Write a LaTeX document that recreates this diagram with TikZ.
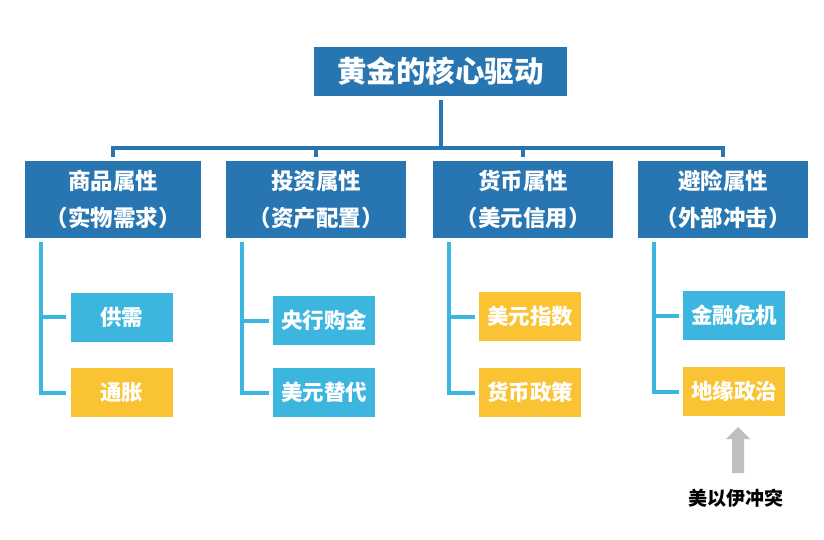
\documentclass[tikz,border=0pt]{standalone}
\usepackage{fontspec}
\newfontfamily\cjk{Noto Sans CJK SC}
\usetikzlibrary{calc}
\definecolor{dblue}{HTML}{2776B2}
\definecolor{lblue}{HTML}{3CB6DF}
\definecolor{gyel}{HTML}{FAC334}
\definecolor{agray}{HTML}{BFBFBF}
\begin{document}
\begin{tikzpicture}[x=1pt,y=-1pt,
  every node/.style={inner sep=0pt,font=\cjk\bfseries},
  rootbox/.style={fill=dblue,text=white,minimum width=253pt,minimum height=49pt,font=\cjk\bfseries\fontsize{29.5}{32}\selectfont},
  catbox/.style={fill=dblue,text=white,minimum height=77pt,align=center,font=\cjk\bfseries\fontsize{22.5}{37}\selectfont},
  leafblue/.style={fill=lblue,text=white,minimum width=102pt,minimum height=49pt,font=\cjk\bfseries\fontsize{21.5}{24}\selectfont},
  leafyel/.style={fill=gyel,text=white,minimum width=102pt,minimum height=49pt,font=\cjk\bfseries\fontsize{21.5}{24}\selectfont},
  topline/.style={draw=dblue,line width=4pt},
  kidline/.style={draw=lblue,line width=4pt},
]
\useasboundingbox (0,0) rectangle (824,540);
\fill[white] (0,0) rectangle (824,540);

\node[rootbox] (root) at (440.5,71.5) {黄金的核心驱动};

\node[catbox,minimum width=176pt] (b1) at (113,199.5) {商品属性\\（实物需求）};
\node[catbox,minimum width=180pt] (b2) at (316,199.5) {投资属性\\（资产配置）};
\node[catbox,minimum width=180pt] (b3) at (523,199.5) {货币属性\\（美元信用）};
\node[catbox,minimum width=170pt] (b4) at (723,199.5) {避险属性\\（外部冲击）};

\coordinate (bar) at (441,148);
\draw[topline] ($(root.south)+(0.5,4)$) -- (bar);
\draw[topline] ($(b1.north)+(0,-4)$) -- (b1.north |- bar) -- (b4.north |- bar) -- ($(b4.north)+(0,-4)$);
\draw[topline] (b2.north |- bar) -- ($(b2.north)+(0,-4)$);
\draw[topline] (b3.north |- bar) -- ($(b3.north)+(0,-4)$);

\node[leafblue] (c11) at (121.5,317) {供需};
\node[leafyel]  (c12) at (121.5,392.5) {通胀};
\node[leafblue] (c21) at (324,320.5) {央行购金};
\node[leafblue] (c22) at (324,392.5) {美元替代};
\node[leafyel]  (c31) at (530,316.5) {美元指数};
\node[leafyel]  (c32) at (530,392.5) {货币政策};
\node[leafblue] (c41) at (734,315.5) {金融危机};
\node[leafyel]  (c42) at (734,391.5) {地缘政治};

\foreach \b/\u/\l in {b1/c11/c12,b2/c21/c22,b3/c31/c32,b4/c41/c42}{
  \coordinate (top\b) at ($(\b.south west)+(16,4)$);
  \draw[kidline] (top\b) |- ($(\l.west)+(-4,0)$);
  \draw[kidline] (top\b |- \u.west) -- ($(\u.west)+(-4,0)$);
}

\node[font=\cjk\bfseries\fontsize{19}{21}\selectfont,text=black] (ev) at (736,498) {美以伊冲突};
\fill[agray] (732,473) -- (732,439) -- (726,439) -- (738,427) -- (750,439) -- (744,439) -- (744,473) -- cycle;
\end{tikzpicture}
\end{document}
